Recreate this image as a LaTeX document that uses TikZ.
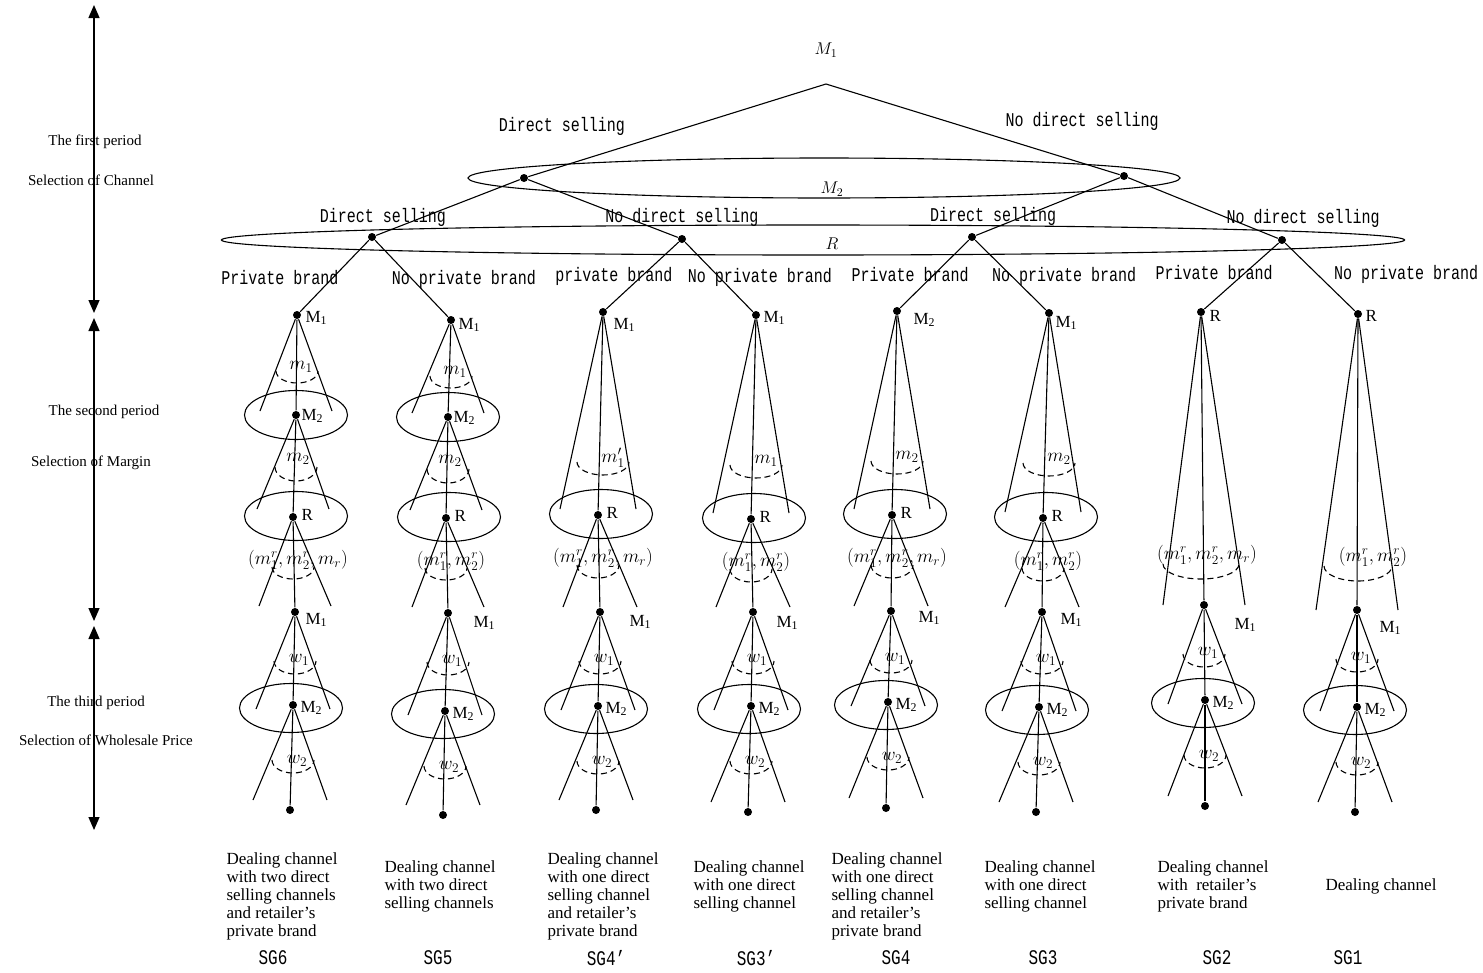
\documentclass[tikz,border=0pt]{standalone}
\usepackage{fix-cm}
\usepackage{graphicx}
\usepackage{fontspec}
\setmainfont{Liberation Serif}
\setmonofont{Liberation Mono}
\usepackage{tikz}
\usetikzlibrary{arrows.meta,calc,shapes.geometric,positioning}

\newcommand\vstretch[1]{\scalebox{1}[1.3]{#1}}
\newcommand\Mone{M\textsubscript{1}}
\newcommand\Mtwo{M\textsubscript{2}}

\tikzset{
  gnode/.style={circle,fill=black,inner sep=0pt,minimum size=8pt},
  infoset/.style={draw,ellipse,inner sep=0pt,minimum width=103pt,minimum height=49pt},
  movelbl/.style={inner sep=0pt,font=\fontsize{15}{15}\selectfont\ttfamily},
  player/.style={inner sep=0pt,font=\fontsize{17}{17}\selectfont},
  margin/.style={inner sep=0pt,font=\fontsize{19}{19}\selectfont},
  side/.style={inner sep=0pt,font=\fontsize{15}{15}\selectfont},
  outcome/.style={inner sep=0pt,anchor=north west,align=left,font=\fontsize{17}{18}\selectfont},
  sglbl/.style={inner sep=0pt,font=\fontsize{16}{16}\selectfont\ttfamily},
  infoarc/.style={dash pattern=on 6pt off 4pt},
  period/.style={{Triangle[length=13pt,width=11pt]}-{Triangle[length=13pt,width=11pt]},line width=1.3pt}
}

\begin{document}
\begin{tikzpicture}[x=1pt,y=-1pt,line width=1.1pt]
   \useasboundingbox (0,0) rectangle (1483,972);

   \def\conelines#1#2#3#4{% apex, next node, half width, height of the ends
     \draw (#1) -- (#2);
     \draw (#1) -- ($(#2)+(-#3,#4)$);
     \draw (#1) -- ($(#2)+(#3,#4)$);
   }
   \def\guessarc#1#2#3#4{% apex, depth, x radius, y radius
     \draw[infoarc] (#1) ++(-#3,#2) arc (180:0:#3 and #4);
   }

   % Periods
   \coordinate (ar0) at (94,5);
   \coordinate (ar1) at (94,313);
   \coordinate (ar2) at (94,318);
   \coordinate (ar3) at (94,621);
   \coordinate (ar4) at (94,626);
   \coordinate (ar5) at (94,830);
   \draw[period] (ar0) -- (ar1);
   \draw[period] (ar2) -- (ar3);
   \draw[period] (ar4) -- (ar5);
   \node[side] (pa1) at (95,142) {The first period};
   \node[side] (pb1) at (91,180) {Selection of Channel};
   \node[side] (pa2) at (104,412) {The second period};
   \node[side] (pb2) at (91,463) {Selection of Margin};
   \node[side] (pa3) at (96,703) {The third period};
   \node[side] (pb3) at (106,740) {Selection of Wholesale Price};

   % Channel choice
   \node[player] (lroot) at (826,50) {$M_1$};
   \coordinate (root) at (826,84);
   \node[infoset,minimum width=712pt,minimum height=40pt] (setm2) at (824,178) {};
   \node[infoset,minimum width=1183pt,minimum height=30pt] (setr) at (813,240) {};
   \node[player] (lsetm2) at (832,189) {$M_2$};
   \node[player] (lsetr) at (832,244) {$R$};
   \node[gnode] (a1) at (524,178) {};
   \node[gnode] (a2) at (1124,176) {};
   \node[gnode] (b1) at (372,237) {};
   \node[gnode] (b2) at (682,239) {};
   \node[gnode] (b3) at (972,237) {};
   \node[gnode] (b4) at (1282,240) {};
   \draw (root) -- (a1);
   \draw (root) -- (a2);
   \draw (a1) -- (b1);
   \draw (a1) -- (b2);
   \draw (a2) -- (b3);
   \draw (a2) -- (b4);
   \node[movelbl] (ds1) at (562,126) {\vstretch{Direct selling}};
   \node[movelbl] (nds1) at (1082,121) {\vstretch{No direct selling}};
   \node[movelbl] (ds2) at (383,217) {\vstretch{Direct selling}};
   \node[movelbl] (nds2) at (682,217) {\vstretch{No direct selling}};
   \node[movelbl] (ds3) at (993,216) {\vstretch{Direct selling}};
   \node[movelbl] (nds3) at (1303,218) {\vstretch{No direct selling}};
   \node[movelbl] (pv1) at (280,278) {\vstretch{Private brand}};
   \node[movelbl] (npv1) at (464,279) {\vstretch{No private brand}};
   \node[movelbl] (pv2) at (614,276) {\vstretch{private brand}};
   \node[movelbl] (npv2) at (760,277) {\vstretch{No private brand}};
   \node[movelbl] (pv3) at (910,275) {\vstretch{Private brand}};
   \node[movelbl] (npv3) at (1064,276) {\vstretch{No private brand}};
   \node[movelbl] (pv4) at (1214,273) {\vstretch{Private brand}};
   \node[movelbl] (npv4) at (1406,274) {\vstretch{No private brand}};

   % Tops of the columns
   \foreach \i/\x/\y in {1/297/315,2/451/320,3/603/312,4/756/315,5/897/311,6/1049/313,7/1201/312,8/1358/314}
     \node[gnode] (c\i) at (\x,\y) {};
   \draw (b1) -- (c1);
   \draw (b1) -- (c2);
   \draw (b2) -- (c3);
   \draw (b2) -- (c4);
   \draw (b3) -- (c5);
   \draw (b3) -- (c6);
   \draw (b4) -- (c7);
   \draw (b4) -- (c8);
   \foreach \i/\dx/\dy/\t in {1/8/3/\Mone,2/7/5/\Mone,3/10/13/\Mone,4/7/3/\Mone,5/16/9/\Mtwo,6/6/10/\Mone,7/8/4/R,8/7/2/R}
     \node[player,anchor=west] (lt\i) at ($(c\i)+(\dx,\dy)$) {\t};

   % Margin choice
   \foreach \i/\xa/\ya in {1/296/415,2/448/417} {
     \node[infoset] (sm\i) at (\xa,\ya) {};
     \node[gnode] (m\i) at (\xa,\ya) {};
     \node[player,anchor=west] (lm\i) at ($(m\i)+(5,1)$) {\Mtwo};
   }
   \foreach \i/\xr/\yr in {1/293/517,2/446/518,3/598/515,4/751/519,5/892/515,6/1043/518} {
     \node[infoset] (sr\i) at (\xr+3,\yr-1) {};
     \node[gnode] (r\i) at (\xr,\yr) {};
     \node[player,anchor=west] (lr\i) at ($(r\i)+(8,-2)$) {R};
   }

   % Wholesale price choice
   \foreach \i/\xp/\yp/\xq/\yq/\xt/\yt/\lx/\ly in {1/295/612/293/705/290/810/10/8,
       2/448/613/445/711/443/815/25/10, 3/600/612/598/706/596/810/29/10,
       4/753/612/751/706/748/812/23/11, 5/891/611/888/702/886/808/27/7,
       6/1042/612/1039/707/1036/812/18/8, 7/1204/605/1205/700/1205/806/30/20,
       8/1357/610/1357/707/1355/812/22/18} {
     \node[gnode] (p\i) at (\xp,\yp) {};
     \node[infoset] (sq\i) at (\xq-2,\yq+3) {};
     \node[gnode] (q\i) at (\xq,\yq) {};
     \node[gnode] (t\i) at (\xt,\yt) {};
     \node[player,anchor=west] (lp\i) at ($(p\i)+(\lx,\ly)$) {\Mone};
     \node[player,anchor=west] (lq\i) at ($(q\i)+(7,3)$) {\Mtwo};
   }

   % Cones
   \foreach \i/\tup in {1/{$(m_1^r,m_2^r,m_r)$},2/{$(m_1^r,m_2^r)$}} {
     \conelines{c\i}{m\i}{36}{-4}
     \guessarc{c\i}{56}{21}{12}
     \node[margin] (la\i) at ($(c\i)+(4,52)$) {$m_1$};
     \conelines{m\i}{r\i}{36}{-8}
     \guessarc{m\i}{52}{21}{14}
     \node[margin] (lb\i) at ($(m\i)+(2,44)$) {$m_2$};
     \conelines{r\i}{p\i}{36}{-6}
     \guessarc{r\i}{50}{21}{12}
     \node[margin] (lc\i) at ($(r\i)+(5,43)$) {\tup};
   }
   \foreach \i/\lab/\tup in {3/{$m_1'$}/{$(m_1^r,m_2^r,m_r)$},4/{$m_1$}/{$(m_1^r,m_2^r)$},
       5/{$m_2$}/{$(m_1^r,m_2^r,m_r)$},6/{$m_2$}/{$(m_1^r,m_2^r)$}} {
     \conelines{c\i}{r\i}{38}{-6}
     \guessarc{c\i}{150}{26}{13}
     \node[margin] (la\i) at ($(c\i)+(10,146)$) {\lab};
     \conelines{r\i}{p\i}{37}{-5}
     \guessarc{r\i}{50}{21}{13}
     \node[margin] (lc\i) at ($(r\i)+(5,43)$) {\tup};
   }
   \foreach \i/\tup/\rx/\lx in {7/{$(m_1^r,m_2^r,m_r)$}/38/6,8/{$(m_1^r,m_2^r)$}/34/15} {
     \conelines{c\i}{p\i}{41}{0}
     \guessarc{c\i}{252}{\rx}{15}
     \node[margin] (lc\i) at ($(c\i)+(\lx,243)$) {\tup};
   }
   \foreach \i in {1,...,8} {
     \conelines{p\i}{q\i}{37}{4}
     \guessarc{p\i}{49}{21}{13}
     \node[margin] (lw\i) at ($(p\i)+(4,48)$) {$w_1$};
     \conelines{q\i}{t\i}{37}{-10}
     \guessarc{q\i}{55}{21}{13}
     \node[margin] (lv\i) at ($(q\i)+(4,56)$) {$w_2$};
   }

   % Subgames
   \node[outcome] (o1) at (226,852) {Dealing channel\\with two direct\\selling channels\\and retailer’s\\private brand};
   \node[outcome] (o2) at (384,860) {Dealing channel\\with two direct\\selling channels};
   \node[outcome] (o3) at (547,852) {Dealing channel\\with one direct\\selling channel\\and retailer’s\\private brand};
   \node[outcome] (o4) at (693,860) {Dealing channel\\with one direct\\selling channel};
   \node[outcome] (o5) at (831,852) {Dealing channel\\with one direct\\selling channel\\and retailer’s\\private brand};
   \node[outcome] (o6) at (984,860) {Dealing channel\\with one direct\\selling channel};
   \node[outcome] (o7) at (1157,860) {Dealing channel\\with~ retailer’s\\private brand};
   \node[outcome] (o8) at (1325,878) {Dealing channel};
   \node[sglbl] (sg6) at (273,958) {\vstretch{SG6}};
   \node[sglbl] (sg5) at (438,958) {\vstretch{SG5}};
   \node[sglbl] (sg4p) at (606,958) {\vstretch{SG4’}};
   \node[sglbl] (sg3p) at (756,958) {\vstretch{SG3’}};
   \node[sglbl] (sg4) at (896,958) {\vstretch{SG4}};
   \node[sglbl] (sg3) at (1043,958) {\vstretch{SG3}};
   \node[sglbl] (sg2) at (1217,958) {\vstretch{SG2}};
   \node[sglbl] (sg1) at (1348,958) {\vstretch{SG1}};

\end{tikzpicture}
\end{document}
